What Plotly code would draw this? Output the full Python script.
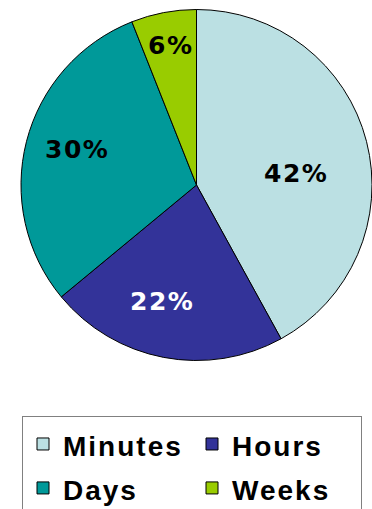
import math
import plotly.graph_objects as go

# Share of responses by time unit
categories = ["Minutes", "Hours", "Days", "Weeks"]
values = [42, 22, 30, 6]
colors = ["#BBE0E3", "#333399", "#009999", "#99CC00"]
label_colors = ["black", "white", "black", "black"]

# label placement inside each slice: position along the slice's arc (0..1)
# and distance from the centre as a fraction of the radius
label_arc_pos = [0.55, 0.57, 0.52, 0.51]
label_radius = [0.57, 0.69, 0.71, 0.81]

W, H = 372, 509
pie_x = [21 / W, 1.0]
pie_y = [1 - 363 / H, 1 - 7 / H]

legend_names = [
    f'<span style="letter-spacing:2px;font-size:28px">{c}</span>' for c in categories
]

fig = go.Figure(
    go.Pie(
        labels=legend_names,
        values=values,
        sort=False,
        direction="clockwise",
        rotation=0,
        marker=dict(colors=colors, line=dict(color="black", width=1)),
        textinfo="none",
        hoverinfo="value",
        domain=dict(x=pie_x, y=pie_y),
    )
)

# percentage labels placed from the slice angles
dom_w = (pie_x[1] - pie_x[0]) * W
dom_h = (pie_y[1] - pie_y[0]) * H
r_px = min(dom_w, dom_h) / 2
cx = (pie_x[0] + pie_x[1]) / 2
cy = (pie_y[0] + pie_y[1]) / 2
total = sum(values)
start = 0.0
for v, t, f, col in zip(values, label_arc_pos, label_radius, label_colors):
    ang = math.radians((start + t * v) / total * 360)
    px = f * r_px * math.sin(ang)
    py = f * r_px * math.cos(ang)
    fig.add_annotation(
        x=cx + px / W,
        y=cy + py / H,
        xref="paper",
        yref="paper",
        text=f'<span style="letter-spacing:1.5px">{v}%</span>',
        showarrow=False,
        font=dict(family="DejaVu Sans", size=25, color=col, weight="bold"),
        xanchor="center",
        yanchor="middle",
    )
    start += v

fig.update_layout(
    width=W,
    height=H,
    margin=dict(l=0, r=0, t=0, b=0, autoexpand=False),
    paper_bgcolor="white",
    plot_bgcolor="white",
    showlegend=True,
    legend=dict(
        orientation="h",
        x=22 / W,
        xanchor="left",
        y=1 - 416 / H,
        yanchor="top",
        entrywidth=124,
        entrywidthmode="pixels",
        bgcolor="white",
        bordercolor="#808080",
        borderwidth=1,
        font=dict(family="Liberation Sans, Arial", size=31.5, color="black", weight="bold"),
        traceorder="normal",
    ),
)

fig.write_html("out.html")
